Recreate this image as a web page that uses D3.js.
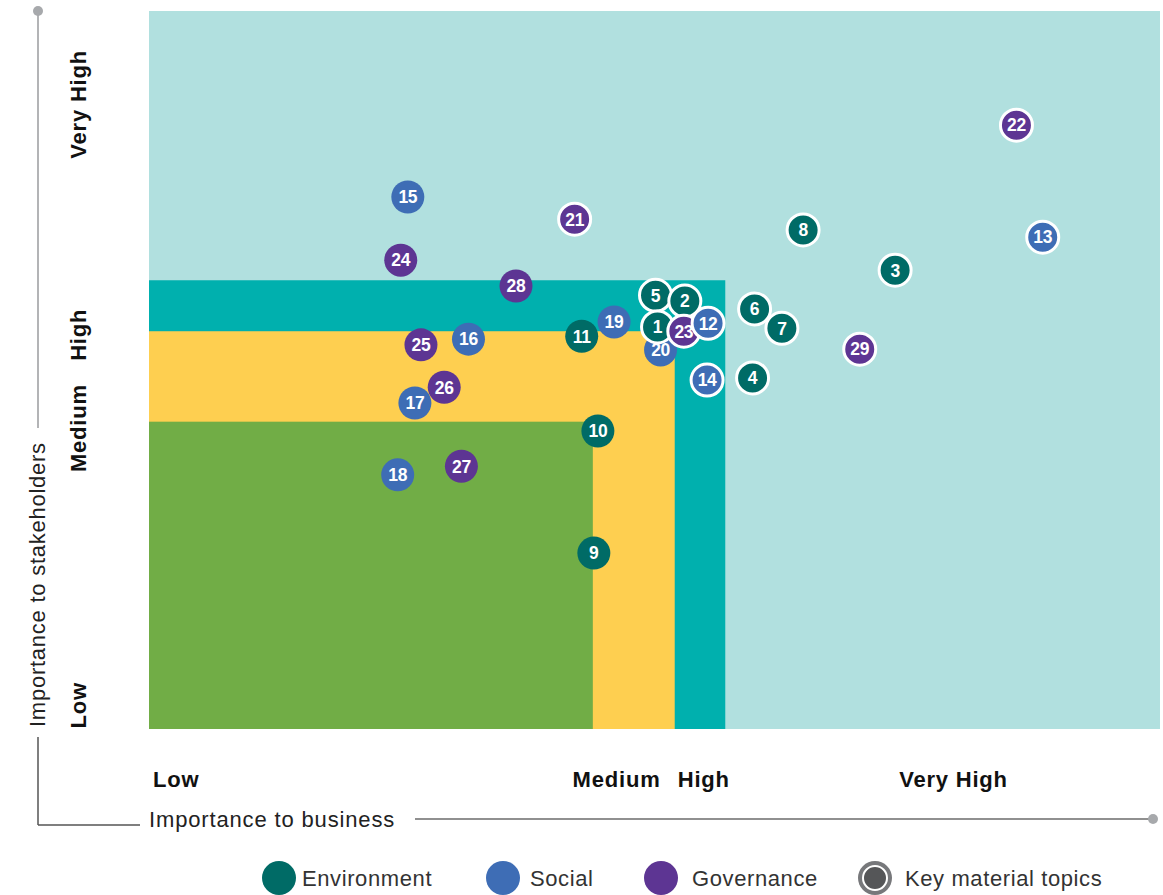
<!DOCTYPE html>
<html>
<head>
<meta charset="utf-8">
<script src="https://cdn.jsdelivr.net/npm/d3@7"></script>
<style>
  html, body { margin: 0; padding: 0; background: #fff; }
  svg { display: block; font-family: "Liberation Sans", Arial, Helvetica, sans-serif; }
</style>
</head>
<body>
<svg id="chart" width="1163" height="895"></svg>
<script>
// ---- data ----
const topicIds   = [20, 9, 10, 11, 15, 16, 17, 26, 18, 19, 24, 25, 27, 28, 5, 2, 1, 23, 12, 3, 4, 6, 7, 8, 13, 14, 21, 22, 29];
const topicGroup = ["S","E","E","E","S","S","S","G","S","S","G","G","G","G","E","E","E","G","S","E","E","E","E","E","S","S","G","G","G"];
const businessX  = [5.06, 4.40, 4.44, 4.28, 2.56, 3.16, 2.63, 2.92, 2.46, 4.60, 2.49, 2.69, 3.09, 3.63, 5.01, 5.30, 5.03, 5.29, 5.53, 7.38, 5.97, 5.99, 6.26, 6.47, 8.84, 5.52, 4.21, 8.58, 7.03];
const stakeY     = [5.28, 2.45, 4.15, 5.47, 7.41, 5.43, 4.54, 4.76, 3.54, 5.67, 6.53, 5.35, 3.66, 6.17, 6.04, 5.96, 5.60, 5.54, 5.65, 6.39, 4.89, 5.85, 5.58, 6.95, 6.85, 4.86, 7.10, 8.41, 5.29];
const keyTopic   = [false,false,false,false,false,false,false,false,false,false,false,false,false,false,true,true,true,true,true,true,true,true,true,true,true,true,true,true,true];

// zones: [xMax, yMax] (from 0,0)
const zoneNames = ["High", "Medium", "Low"];
const zoneXMax  = [5.70, 5.20, 4.39];
const zoneYMax  = [6.25, 5.54, 4.28];

const xTickLabels = ["Low", "Medium", "High", "Very High"];
const xTickPos    = [0.04, 4.19, 5.23, 7.42];
const yTickLabels = ["Very High", "High", "Medium", "Low"];
const yTickPos    = [8.70, 5.49, 4.19, 0.33];

const legendLabels = ["Environment", "Social", "Governance", "Key material topics"];

// ---- styles ----
const groupColor = { E: "#006b66", S: "#3e6db5", G: "#5d3593" };
const zoneColor  = ["#00b0ae", "#fecf50", "#71ad46"];
const bgColor    = "#b1e0df";

const svg = d3.select("#chart");
const mLeft = 149, mRight = 1160, mTop = 11, mBottom = 729;
const x = d3.scaleLinear().domain([0, 10]).range([mLeft, mRight]);
const y = d3.scaleLinear().domain([0, 10]).range([mBottom, mTop]);

// background
svg.append("rect").attr("x", x(0)).attr("y", y(10))
  .attr("width", x(10) - x(0)).attr("height", y(0) - y(10)).attr("fill", bgColor);

// zones
zoneNames.forEach((n, i) => {
  svg.append("rect")
    .attr("x", x(0)).attr("y", y(zoneYMax[i]))
    .attr("width", x(zoneXMax[i]) - x(0))
    .attr("height", y(0) - y(zoneYMax[i]))
    .attr("fill", zoneColor[i]);
});

// axis frame lines
const axisG = svg.append("g");
axisG.append("line").attr("x1", 38).attr("x2", 38).attr("y1", 11).attr("y2", 428)
  .attr("stroke", "#9a9b9e").attr("stroke-width", 1.5);
axisG.append("line").attr("x1", 38).attr("x2", 38).attr("y1", 737).attr("y2", 825)
  .attr("stroke", "#555").attr("stroke-width", 1.5);
axisG.append("line").attr("x1", 38).attr("x2", 140).attr("y1", 825).attr("y2", 825)
  .attr("stroke", "#555").attr("stroke-width", 1.5);
axisG.append("line").attr("x1", 415).attr("x2", 1153).attr("y1", 819).attr("y2", 819)
  .attr("stroke", "#222").attr("stroke-width", 1.2);
axisG.append("circle").attr("cx", 38).attr("cy", 11).attr("r", 5).attr("fill", "#a7a9ac");
axisG.append("circle").attr("cx", 1153).attr("cy", 819).attr("r", 5).attr("fill", "#a7a9ac");

// axis titles
svg.append("text").attr("x", 149).attr("y", 827)
  .attr("font-size", 22).attr("letter-spacing", 0.85).attr("fill", "#222").text("Importance to business");
svg.append("text").attr("transform", "translate(45,727) rotate(-90)")
  .attr("font-size", 22).attr("letter-spacing", 0.75).attr("fill", "#222").text("Importance to stakeholders");

// tick labels
svg.selectAll(".xt").data(xTickLabels).join("text")
  .attr("x", (d, i) => x(xTickPos[i])).attr("y", 787)
  .attr("font-size", 22).attr("letter-spacing", 0.8).attr("font-weight", "bold").attr("fill", "#111")
  .text(d => d);
svg.selectAll(".yt").data(yTickLabels).join("text")
  .attr("transform", (d, i) => `translate(86,${y(yTickPos[i])}) rotate(-90)`)
  .attr("text-anchor", "middle")
  .attr("font-size", 22).attr("letter-spacing", 0.8).attr("font-weight", "bold").attr("fill", "#111")
  .text(d => d);

// points
const pts = topicIds.map((id, i) => ({ id, g: topicGroup[i], bx: businessX[i], sy: stakeY[i], key: keyTopic[i] }));
const pg = svg.append("g");
const node = pg.selectAll("g").data(pts).join("g")
  .attr("transform", d => `translate(${x(d.bx)},${y(d.sy)})`);
node.append("circle")
  .attr("r", d => d.key ? 16 : 16.5)
  .attr("fill", d => groupColor[d.g])
  .attr("stroke", d => d.key ? "#fff" : "none")
  .attr("stroke-width", 3);
node.append("text")
  .attr("text-anchor", "middle").attr("dy", "0.36em")
  .attr("font-size", 17.5).attr("font-weight", "bold").attr("fill", "#fff")
  .attr("letter-spacing", "-0.3")
  .text(d => d.id);

// legend
const legX = [279, 503, 661, 875];
const legTextX = [302, 530, 692, 905];
const legCol = [groupColor.E, groupColor.S, groupColor.G, null];
const lg = svg.append("g");
legendLabels.forEach((lab, i) => {
  if (legCol[i]) {
    lg.append("circle").attr("cx", legX[i]).attr("cy", 878).attr("r", 17).attr("fill", legCol[i]);
  } else {
    lg.append("circle").attr("cx", legX[i]).attr("cy", 878).attr("r", 17).attr("fill", "#77787b");
    lg.append("circle").attr("cx", legX[i]).attr("cy", 878).attr("r", 12).attr("fill", "#555658")
      .attr("stroke", "#fff").attr("stroke-width", 2);
  }
  lg.append("text").attr("x", legTextX[i]).attr("y", 886)
    .attr("font-size", 22).attr("letter-spacing", 0.6).attr("fill", "#333").text(lab);
});
</script>
</body>
</html>
